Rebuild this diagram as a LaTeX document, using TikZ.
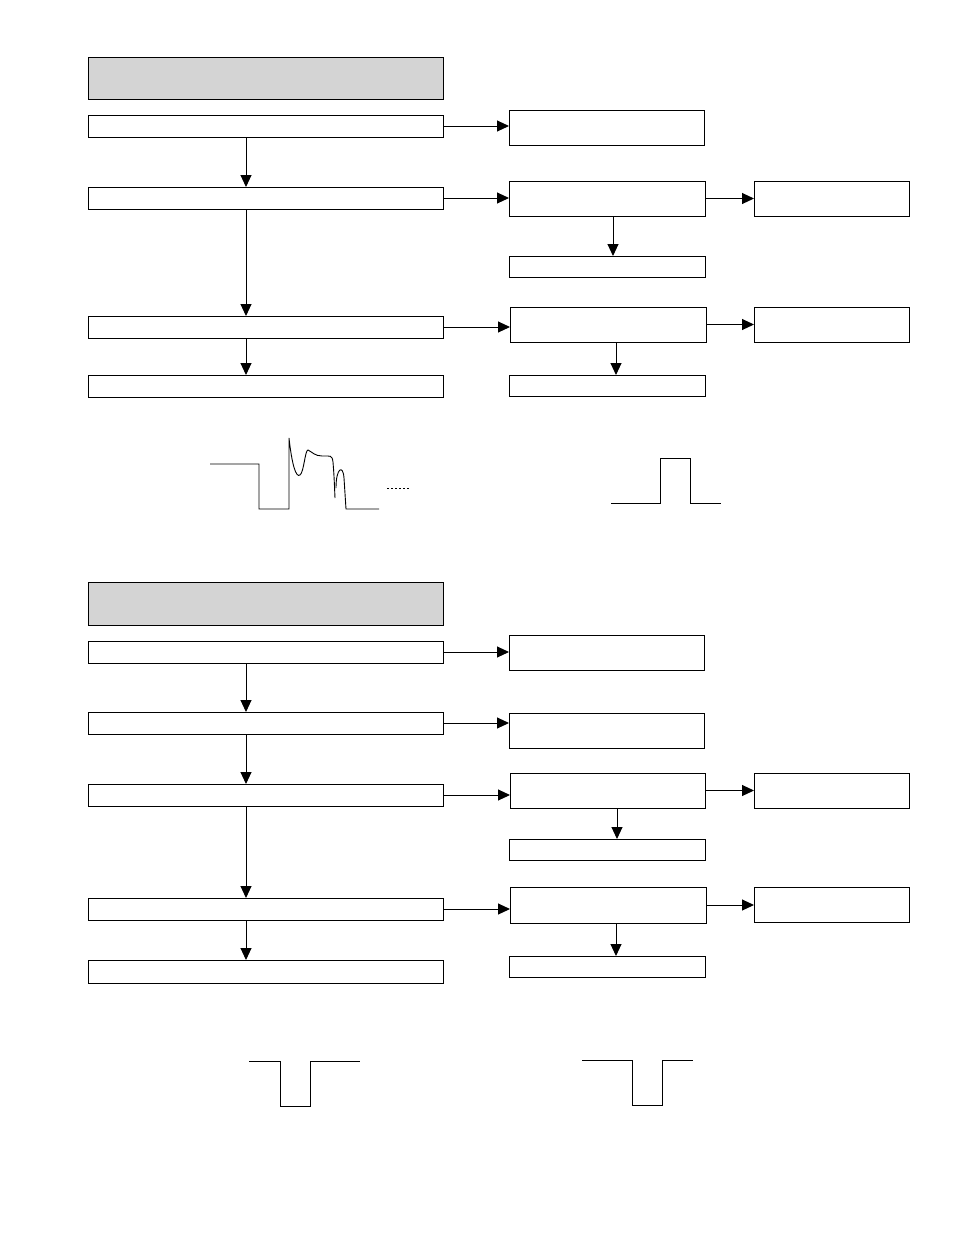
\documentclass[tikz,border=0pt]{standalone}
\usepackage{tikz}
\usetikzlibrary{arrows.meta}

\begin{document}
\begin{tikzpicture}[
		x=1pt, y=-1pt,
		%Option for nice arrows
		>={Triangle[length=12pt,width=11pt]}, %
		box/.style={draw, line width=1pt, inner sep=0pt, outer sep=0pt, anchor=north west},
		head/.style={box, fill=headgray},
		flow/.style={line width=1pt, ->},
		signal/.style={line width=0.9pt},
	]
		% Colors
		\colorlet{headgray}{black!17}
		\useasboundingbox (0,0) rectangle (954,1235);

		% Upper chart
		\node[head, minimum width=355, minimum height=42] (h1) at (88,57) {};
		\node[box, minimum width=355, minimum height=22] (a1) at (88,115) {};
		\node[box, minimum width=355, minimum height=22] (a2) at (88,187) {};
		\node[box, minimum width=355, minimum height=22] (a3) at (88,316) {};
		\node[box, minimum width=355, minimum height=22] (a4) at (88,375) {};
		\node[box, minimum width=195, minimum height=35] (b1) at (509,110) {};
		\node[box, minimum width=196, minimum height=35] (b2) at (509,181) {};
		\node[box, minimum width=196, minimum height=21] (b2c) at (509,256) {};
		\node[box, minimum width=155, minimum height=35] (b2b) at (754,181) {};
		\node[box, minimum width=196, minimum height=35] (b3) at (510,307) {};
		\node[box, minimum width=196, minimum height=21] (b3c) at (509,375) {};
		\node[box, minimum width=155, minimum height=35] (b3b) at (754,307) {};

		\draw[flow] (a1.east) -- (a1.east -| b1.west);
		\draw[flow] (a2.east) -- (a2.east -| b2.west);
		\draw[flow] (a3.east) -- (a3.east -| b3.west);
		\draw[flow] (b2.east) -- (b2.east -| b2b.west);
		\draw[flow] (b3.east) -- (b3.east -| b3b.west);
		\draw[flow] ([xshift=158pt]a1.south west) coordinate (t) -- (t |- a2.north);
		\draw[flow] ([xshift=158pt]a2.south west) coordinate (t) -- (t |- a3.north);
		\draw[flow] ([xshift=158pt]a3.south west) coordinate (t) -- (t |- a4.north);
		\draw[flow] ([xshift=104pt]b2.south west) coordinate (t) -- (t |- b2c.north);
		\draw[flow] ([xshift=106pt]b3.south west) coordinate (t) -- (t |- b3c.north);

		% Upper signals
		\draw[signal] (210,464) -- (259,464) -- (259,509) -- (289,509) -- (289,438)
			.. controls (292,465) and (296,478) .. (300,475)
			.. controls (304,472) and (305,450) .. (308,450)
			.. controls (312,452) and (315,456) .. (322,456)
			.. controls (331,456) and (332,455) .. (333,462)
			.. controls (334,475) .. (335,498);
		\draw[signal] (336,488) .. controls (336,468) and (343,464) .. (344,478)
			-- (346,509) -- (379,509);
		\draw[signal, dash pattern=on 2pt off 2pt] (387,488) -- (409,488);
		\draw[signal] (611,503) -- (660,503) -- (660,458) -- (690,458) -- (690,503) -- (721,503);

		% Lower chart
		\node[head, minimum width=355, minimum height=43] (h2) at (88,582) {};
		\node[box, minimum width=355, minimum height=22] (c1) at (88,641) {};
		\node[box, minimum width=355, minimum height=22] (c2) at (88,712) {};
		\node[box, minimum width=355, minimum height=22] (c3) at (88,784) {};
		\node[box, minimum width=355, minimum height=22] (c4) at (88,898) {};
		\node[box, minimum width=355, minimum height=23] (c5) at (88,960) {};
		\node[box, minimum width=195, minimum height=35] (d1) at (509,635) {};
		\node[box, minimum width=195, minimum height=35] (d2) at (509,713) {};
		\node[box, minimum width=195, minimum height=35] (d3) at (510,773) {};
		\node[box, minimum width=196, minimum height=21] (d3c) at (509,839) {};
		\node[box, minimum width=155, minimum height=35] (d3b) at (754,773) {};
		\node[box, minimum width=196, minimum height=36] (d4) at (510,887) {};
		\node[box, minimum width=196, minimum height=21] (d4c) at (509,956) {};
		\node[box, minimum width=155, minimum height=35] (d4b) at (754,887) {};

		\draw[flow] (c1.east) -- (c1.east -| d1.west);
		\draw[flow] (c2.east) -- (c2.east -| d2.west);
		\draw[flow] (c3.east) -- (c3.east -| d3.west);
		\draw[flow] (c4.east) -- (c4.east -| d4.west);
		\draw[flow] (d3.east) -- (d3.east -| d3b.west);
		\draw[flow] (d4.east) -- (d4.east -| d4b.west);
		\draw[flow] ([xshift=158pt]c1.south west) coordinate (t) -- (t |- c2.north);
		\draw[flow] ([xshift=158pt]c2.south west) coordinate (t) -- (t |- c3.north);
		\draw[flow] ([xshift=158pt]c3.south west) coordinate (t) -- (t |- c4.north);
		\draw[flow] ([xshift=158pt]c4.south west) coordinate (t) -- (t |- c5.north);
		\draw[flow] ([xshift=107pt]d3.south west) coordinate (t) -- (t |- d3c.north);
		\draw[flow] ([xshift=106pt]d4.south west) coordinate (t) -- (t |- d4c.north);

		% Lower signals
		\draw[signal] (249,1061) -- (280,1061) -- (280,1106) -- (310,1106) -- (310,1061) -- (360,1061);
		\draw[signal] (582,1060) -- (632,1060) -- (632,1105) -- (662,1105) -- (662,1060) -- (693,1060);
	\end{tikzpicture}
\end{document}
